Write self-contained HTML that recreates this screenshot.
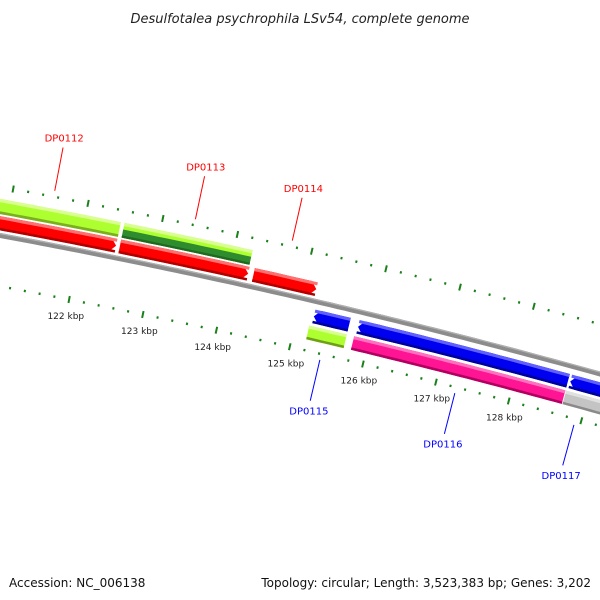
<!DOCTYPE html>
<html><head><meta charset="utf-8"><style>
body{margin:0;background:#fff}
svg{display:block}
text{font-family:"DejaVu Sans","Liberation Sans",sans-serif}
</style></head><body>
<svg id="map" width="600" height="600" viewBox="0 0 600 600" xmlns="http://www.w3.org/2000/svg">
<rect width="600" height="600" fill="#fff"/>
<text x="300" y="23" text-anchor="middle" font-size="13" font-style="italic" fill="#222">Desulfotalea psychrophila LSv54, complete genome</text>
<g id="ticks"></g>
<g id="feats"></g>
<g id="labels"></g>
<text x="9" y="587" font-size="12" fill="#111">Accession: NC_006138</text>
<text x="591" y="587" text-anchor="end" font-size="12" fill="#111">Topology: circular; Length: 3,523,383 bp; Genes: 3,202</text>
</svg>
<script>
// data
const featNames  = ["DP0112-cds","DP0112-gene","DP0113-cds","DP0113-gene","DP0114-cds","DP0115-cds","DP0115-gene","DP0116-cds","DP0116-gene","DP0117-cds","DP0117-gene"];
const featStarts = [120.0, 120.0, 122.52, 122.52, 124.32, 125.22, 125.19, 125.82, 125.80, 128.72, 128.70];
const featEnds   = [122.47, 122.47, 124.25, 124.24, 125.17, 125.70, 125.70, 128.69, 128.69, 130.5, 130.5];
const featTracks = ["fcds","fgene","fcds","fgene2","fcds","rcds","rgene","rcds","rgene","rcds","rgene2"];
const labelNames = ["DP0112","DP0113","DP0114","DP0115","DP0116","DP0117"];
const labelKbp   = [121.54, 123.42, 124.72, 125.43, 127.28, 128.92];
const tickStart = 120.4, tickEnd = 130.0, tickStep = 0.2;
const tickLabelMin = 122, tickLabelMax = 128;

const NS="http://www.w3.org/2000/svg";
const R=7000, TH0=13, K0=125, DTH=0.62;
const B0=[301,298];
const t0=TH0*Math.PI/180;
const C=[B0[0]-R*Math.sin(t0), B0[1]+R*Math.cos(t0)];
function pt(k,off){const th=(TH0+(k-K0)*DTH)*Math.PI/180;const r=R+off;return [C[0]+r*Math.sin(th),C[1]-r*Math.cos(th)];}
const kpp=1/76;
function band(a,b,o1,o2,arrow){
  const pts=[];const n=Math.max(2,Math.ceil((b-a)/0.1));
  const al=6*kpp;
  let aa=a,bb=b;
  if(arrow==='f')bb=b-al; if(arrow==='r')aa=a+al;
  for(let i=0;i<=n;i++){pts.push(pt(aa+(bb-aa)*i/n,o1));}
  if(arrow==='f')pts.push(pt(b,(o1+o2)/2));
  for(let i=n;i>=0;i--){pts.push(pt(aa+(bb-aa)*i/n,o2));}
  if(arrow==='r')pts.push(pt(a,(o1+o2)/2));
  return pts.map(p=>p[0].toFixed(1)+','+p[1].toFixed(1)).join(' ');
}
function poly(g,pts,fill,name){const p=document.createElementNS(NS,'polygon');p.setAttribute('points',pts);p.setAttribute('fill',fill);


g.appendChild(p);return p;}
const F=document.getElementById('feats');
poly(F,band(119.5,131,2.5,-2.5,null),'#8c8c8c','backbone');
poly(F,band(119.5,131,2.5,1.2,null),'#b0b0b0','backbone-highlight');
const trackDef={fcds:[19,5,'f'],fgene:[36,21,null],fgene2:[36,21,null],rcds:[-8,-22,'r'],rgene:[-25,-39,null],rgene2:[-25,-39,null]};
const colors={fcds:['#ff0000','#ff7070','#b00000'],fgene:['#adff2f','#d8ff90','#7caf20'],fgene2:['#adff2f','#d8ff90','#7caf20'],
rcds:['#0000f0','#6060ff','#00009a'],rgene:['#ff1493','#ff70c0','#b00060'],rgene2:['#c4c4c4','#e0e0e0','#8a8a8a']};
featStarts.forEach((s,i)=>{
  const tr=featTracks[i];const d=trackDef[tr];let c=colors[tr];
  if(tr==='rgene'&&featNames[i]==='DP0115-gene')c=['#adff2f','#d8ff90','#6f9f18'];
  const e=featEnds[i];const g=document.createElementNS(NS,'g');
  
  
  F.appendChild(g);
  poly(g,band(s,e,d[0],d[1],d[2]),c[0],featNames[i]+'-body');
  const h=d[0]-d[1];
  poly(g,band(s,e,d[0],d[0]-h*0.22,null),c[1],featNames[i]+'-highlight');
  poly(g,band(s,e,d[1]+h*0.18,d[1],null),c[2],featNames[i]+'-shade');
  if(tr==='fgene2'){poly(g,band(s,e,d[0]-h*0.45,d[1],null),'#2e8b2e',featNames[i]+'-dark-part');poly(g,band(s,e,d[1]+h*0.15,d[1],null),'#1f6a1f',featNames[i]+'-dark-shade');}
});
const T=document.getElementById('ticks');
function line(g,p1,p2,w,name){const l=document.createElementNS(NS,'line');l.setAttribute('x1',p1[0]);l.setAttribute('y1',p1[1]);l.setAttribute('x2',p2[0]);l.setAttribute('y2',p2[1]);l.setAttribute('stroke','#1a801a');l.setAttribute('stroke-width',w);


g.appendChild(l);}
for(let k=tickStart;k<=tickEnd+1e-9;k+=tickStep){
  const kr=Math.round(k*10)/10;const major=Math.abs(kr-Math.round(kr))<1e-6;
  [48,-50].forEach(o=>{
    if(major)line(T,pt(kr,o+3.5),pt(kr,o-3.5),2,'major-tick');
    else line(T,pt(kr,o+1.2),pt(kr,o-1.2),2,'minor-tick');
  });
  if(major&&kr>=tickLabelMin&&kr<=tickLabelMax){const p=pt(kr,-67);const t=document.createElementNS(NS,'text');t.setAttribute('x',p[0].toFixed(1));t.setAttribute('y',(p[1]+3).toFixed(1));t.setAttribute('text-anchor','middle');t.setAttribute('font-size','9');t.setAttribute('fill','#222');t.textContent=Math.round(kr)+' kbp';
  
  
  T.appendChild(t);}
}
const L=document.getElementById('labels');
labelNames.forEach((n,i)=>{
  const fwd=i<3;const col=fwd?'#ff0000':'#0000ff';
  const p1=pt(labelKbp[i],fwd?54:-56), p2=pt(labelKbp[i],fwd?98:-98);
  const l=document.createElementNS(NS,'line');l.setAttribute('x1',p1[0]);l.setAttribute('y1',p1[1]);l.setAttribute('x2',p2[0]);l.setAttribute('y2',p2[1]);l.setAttribute('stroke',col);l.setAttribute('stroke-width',1);
  
  
  L.appendChild(l);
  const tp=pt(labelKbp[i],fwd?104:-104);
  const t=document.createElementNS(NS,'text');t.setAttribute('x',tp[0].toFixed(1));t.setAttribute('y',(tp[1]+(fwd?0:8)).toFixed(1));t.setAttribute('text-anchor','middle');t.setAttribute('font-size','10');t.setAttribute('fill',col);t.textContent=n;
  
  
  L.appendChild(t);
});
</script>
</body></html>
